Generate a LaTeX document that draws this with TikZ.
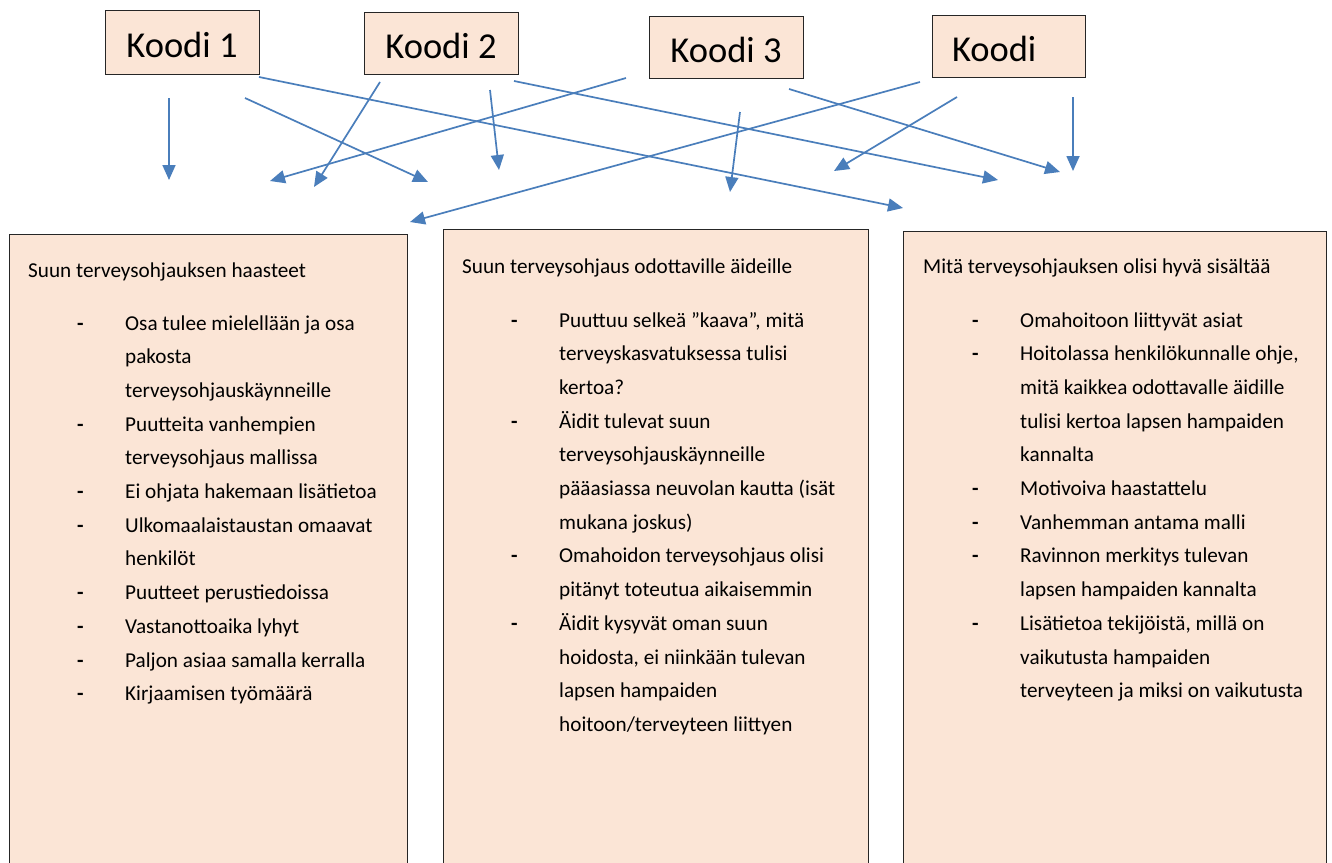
\documentclass[tikz,border=0pt]{standalone}
\usepackage{fontspec}
\setmainfont{Carlito}
\usetikzlibrary{arrows.meta}
\definecolor{peach}{HTML}{FBE5D6}
\definecolor{arrowblue}{HTML}{4A7EBB}
\definecolor{edge}{HTML}{262626}
\tikzset{
  koodi/.style={draw=edge, line width=1pt, fill=peach, minimum width=154pt, minimum height=62pt, inner sep=0pt, font=\fontsize{36.5}{40}\selectfont, text height=30pt, text depth=0pt},
  panel/.style={draw=edge, line width=1pt, fill=peach, anchor=north west, inner sep=0pt, minimum height=660pt},
  conn/.style={draw=arrowblue, line width=1.7pt, -{Triangle[length=15pt,width=13pt]}},
  txt/.style={anchor=base west, inner sep=0pt, font=\fontsize{21.2}{25}\selectfont},
  dashmark/.style={txt, font=\fontsize{21.2}{25}\selectfont\bfseries},
}
\begin{document}
\begin{tikzpicture}[x=1pt,y=-1pt]
\useasboundingbox (0,0) rectangle (1332,862);
\clip (0,0) rectangle (1332,862);
\fill[white] (0,0) rectangle (1332,862);

% Code boxes
\node[koodi, minimum height=64pt] (k1) at (182,42) {Koodi 1};
\node[koodi] (k2) at (441,43.5) {Koodi 2};
\node[koodi] (k3) at (726,47.5) {Koodi 3};
\node[koodi, minimum width=153pt] (k4) at (1008.5,46.5) {\makebox[113pt][l]{Koodi}};

% Panels
\node[panel, minimum width=398pt] (p1) at (9,234) {};
\node[panel, minimum width=425pt] (p2) at (443,229) {};
\node[panel, minimum width=423pt] (p3) at (903,231) {};

% Panel 1 text
\node[txt] (t1) at (28,277) {Suun terveysohjauksen haasteet};
\foreach \i in {0,3,5,6,8,9,10,11}
  \node[dashmark] (b1d\i) at (77,330+33.7*\i) {-};
\foreach \i/\t in {
  0/{Osa tulee mielellään ja osa},
  1/{pakosta},
  2/{terveysohjauskäynneille},
  3/{Puutteita vanhempien},
  4/{terveysohjaus mallissa},
  5/{Ei ohjata hakemaan lisätietoa},
  6/{Ulkomaalaistaustan omaavat},
  7/{henkilöt},
  8/{Puutteet perustiedoissa},
  9/{Vastanottoaika lyhyt},
  10/{Paljon asiaa samalla kerralla},
  11/{Kirjaamisen työmäärä}}
  \node[txt] (b1l\i) at (125,330+33.7*\i) {\t};

% Panel 2 text
\node[txt] (t2) at (462,273) {Suun terveysohjaus odottaville äideille};
\foreach \i in {0,3,7,9}
  \node[dashmark] (b2d\i) at (511,327+33.7*\i) {-};
\foreach \i/\t in {
  0/{Puuttuu selkeä ”kaava”, mitä},
  1/{terveyskasvatuksessa tulisi},
  2/{kertoa?},
  3/{Äidit tulevat suun},
  4/{terveysohjauskäynneille},
  5/{pääasiassa neuvolan kautta (isät},
  6/{mukana joskus)},
  7/{Omahoidon terveysohjaus olisi},
  8/{pitänyt toteutua aikaisemmin},
  9/{Äidit kysyvät oman suun},
  10/{hoidosta, ei niinkään tulevan},
  11/{lapsen hampaiden},
  12/{hoitoon/terveyteen liittyen}}
  \node[txt] (b2l\i) at (559,327+33.7*\i) {\t};

% Panel 3 text
\node[txt] (t3) at (923,273) {Mitä terveysohjauksen olisi hyvä sisältää};
\foreach \i in {0,1,5,6,7,9}
  \node[dashmark] (b3d\i) at (972,327+33.7*\i) {-};
\foreach \i/\t in {
  0/{Omahoitoon liittyvät asiat},
  1/{Hoitolassa henkilökunnalle ohje,},
  2/{mitä kaikkea odottavalle äidille},
  3/{tulisi kertoa lapsen hampaiden},
  4/{kannalta},
  5/{Motivoiva haastattelu},
  6/{Vanhemman antama malli},
  7/{Ravinnon merkitys tulevan},
  8/{lapsen hampaiden kannalta},
  9/{Lisätietoa tekijöistä, millä on},
  10/{vaikutusta hampaiden},
  11/{terveyteen ja miksi on vaikutusta}}
  \node[txt] (b3l\i) at (1020,327+33.7*\i) {\t};

% Connector end points
\coordinate (a1s) at (169,98);   \coordinate (a1e) at (169,180);
\coordinate (a2s) at (245,98);   \coordinate (a2e) at (428,182);
\coordinate (a3s) at (259,77);   \coordinate (a3e) at (903,208);
\coordinate (a4s) at (380,82);   \coordinate (a4e) at (314,187);
\coordinate (a5s) at (490,90);   \coordinate (a5e) at (499,170);
\coordinate (a6s) at (514,81);   \coordinate (a6e) at (998,180);
\coordinate (a7s) at (626,78);   \coordinate (a7e) at (270,181);
\coordinate (a8s) at (740,112);  \coordinate (a8e) at (730,192);
\coordinate (a9s) at (789,89);   \coordinate (a9e) at (1060,172);
\coordinate (a10s) at (920,82);  \coordinate (a10e) at (410,222);
\coordinate (a11s) at (957,97);  \coordinate (a11e) at (834,171);
\coordinate (a12s) at (1073,97); \coordinate (a12e) at (1073,171);

\foreach \n in {1,...,12}
  \draw[conn] (a\n s) -- (a\n e);
\end{tikzpicture}
\end{document}
